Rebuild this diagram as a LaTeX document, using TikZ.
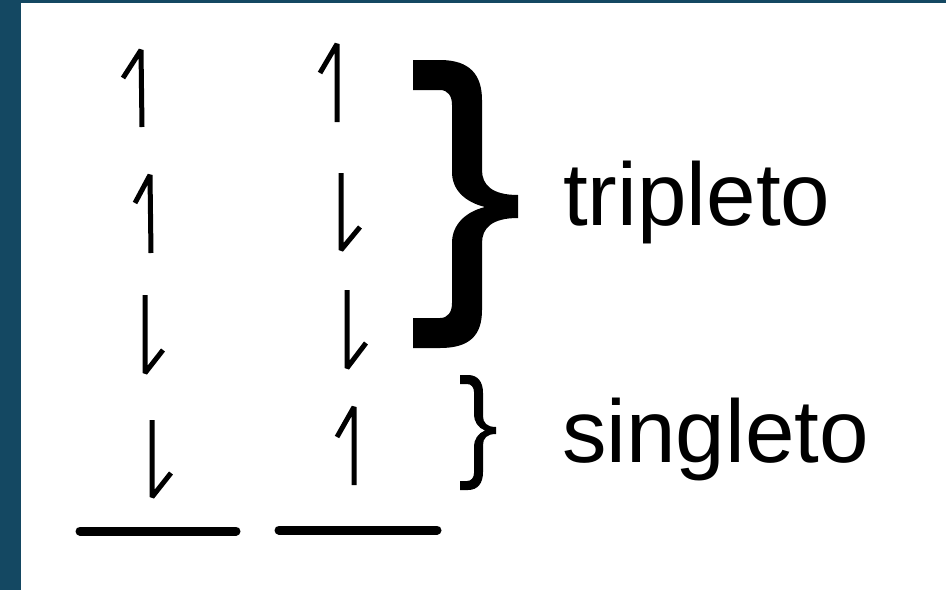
\documentclass[tikz,border=0pt]{standalone}
\usepackage{fontspec}
\setmainfont{Liberation Sans}
\definecolor{frame}{RGB}{20,72,98}
\tikzset{
  spin/.style={line width=5pt, line join=bevel, line cap=butt, black},
  level/.style={line width=9pt, line cap=round, black},
  label/.style={anchor=base west, inner sep=0pt, font=\fontsize{89}{93}\selectfont}
}
\begin{document}
\begin{tikzpicture}[x=1pt,y=-1pt]
\useasboundingbox (0,0) rectangle (946,590);
\fill[white] (0,0) rectangle (946,590);
\fill[frame] (0,0) rectangle (21,590);
\fill[frame] (0,0) rectangle (946,3);
% column 1
\draw[spin] (123,78) -- (141,50) -- (142,127);
\draw[spin] (135,203) -- (150,175) -- (151,253);
\draw[spin] (145,295) -- (145,373) -- (163,350);
\draw[spin] (152,420) -- (152,497) -- (171,473);
% column 2
\draw[spin] (320,73) -- (337,44) -- (337,122);
\draw[spin] (341,173) -- (341,250) -- (360,227);
\draw[spin] (347,290) -- (347,368) -- (366,343);
\draw[spin] (337,437) -- (354,407) -- (354,485);
% levels
\draw[level] (80,531) -- (236,531);
\draw[level] (279,530) -- (437,530);
% big brace
\fill[black] (413,60) -- (440,60) .. controls (470,60) and (482,75) .. (482,100) -- (482,170)
  .. controls (482,185) and (492,195) .. (518,195) -- (518,218)
  .. controls (492,218) and (482,228) .. (482,243) -- (482,310)
  .. controls (482,335) and (470,348) .. (440,348) -- (413,348) -- (413,318) -- (440,318)
  .. controls (448,318) and (452,312) .. (452,303) -- (452,243)
  .. controls (452,225) and (465,212) .. (485,207)
  .. controls (465,202) and (452,190) .. (452,172) -- (452,105)
  .. controls (452,96) and (448,90) .. (440,90) -- (413,90) -- cycle;
% small brace
\fill[black] (460,375) -- (468,375) .. controls (478,375) and (483,382) .. (483,393) -- (483,416)
  .. controls (483,423) and (487,427) .. (496,427) -- (496,434)
  .. controls (487,434) and (483,438) .. (483,445) -- (483,472)
  .. controls (483,483) and (478,490) .. (468,490) -- (460,490) -- (460,481) -- (467,481)
  .. controls (471,481) and (474,478) .. (474,473) -- (474,446)
  .. controls (474,440) and (478,433) .. (485,430.5)
  .. controls (478,428) and (474,421) .. (474,415) -- (474,392)
  .. controls (474,387) and (471,384) .. (467,384) -- (460,384) -- cycle;
% labels
\node[label] (trip) at (563,225) {tripleto};
\node[label] (sing) at (562,462) {singleto};
\end{tikzpicture}
\end{document}
